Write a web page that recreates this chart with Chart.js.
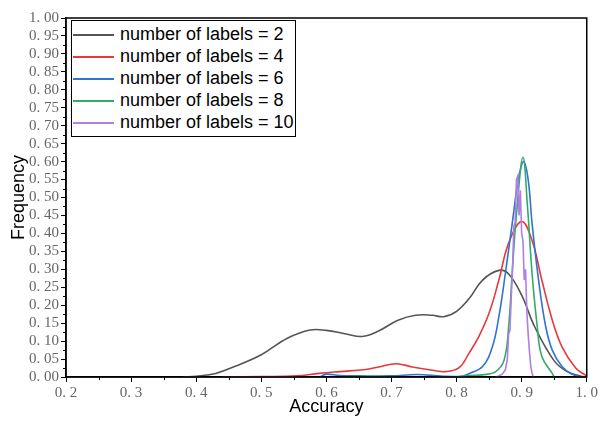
<!DOCTYPE html>
<html>
<head>
<meta charset="utf-8">
<script src="https://cdn.jsdelivr.net/npm/chart.js@4"></script>
<style>
  body { margin: 0; background: #fff; }
  #wrap { position: relative; width: 600px; height: 422px; }
  #legend {
    position: absolute; left: 71px; top: 20px; width: 225px; height: 117px;
    box-sizing: border-box; border: 1.5px solid #000; background: #fff;
    padding-top: 2px;
    font-family: "Liberation Sans", Arial, sans-serif; font-size: 18px; color: #000;
  }
  #legend .row { height: 22px; line-height: 22px; white-space: nowrap; }
  #legend .sw { display: inline-block; width: 41px; height: 0; vertical-align: middle; margin-left: 1px; margin-right: 6px; }
</style>
</head>
<body>
<div id="wrap">
  <canvas id="grafik" width="600" height="422"></canvas>
  <div id="legend"></div>
</div>
<script>
// number of labels = 2
const acc2  = [0.38, 0.40, 0.43, 0.46, 0.50, 0.54, 0.575, 0.60, 0.63, 0.655, 0.68, 0.71, 0.737, 0.763, 0.78, 0.80, 0.82, 0.84, 0.865, 0.88, 0.90, 0.92, 0.95, 0.97, 0.99, 1.00];
const freq2 = [0, 0.002, 0.01, 0.03, 0.062, 0.108, 0.131, 0.13, 0.12, 0.113, 0.128, 0.158, 0.172, 0.172, 0.168, 0.183, 0.22, 0.27, 0.297, 0.287, 0.228, 0.14, 0.045, 0.015, 0.003, 0];
// number of labels = 4
const acc4  = [0.44, 0.50, 0.554, 0.589, 0.62, 0.66, 0.68, 0.707, 0.732, 0.763, 0.783, 0.804, 0.819, 0.834, 0.85, 0.865, 0.88, 0.90, 0.916, 0.931, 0.947, 0.962, 0.983, 0.998, 1.00];
const freq4 = [0, 0.001, 0.003, 0.01, 0.015, 0.021, 0.028, 0.037, 0.028, 0.019, 0.015, 0.026, 0.066, 0.112, 0.178, 0.27, 0.373, 0.433, 0.38, 0.27, 0.159, 0.084, 0.025, 0.005, 0.002];
// number of labels = 6
const acc6  = [0.59, 0.60, 0.62, 0.65, 0.70, 0.74, 0.78, 0.81, 0.82, 0.84, 0.855, 0.865, 0.875, 0.8855, 0.895, 0.903, 0.91, 0.916, 0.926, 0.937, 0.947, 0.962, 0.977, 0.99];
const freq6 = [0, 0.008, 0.004, 0.003, 0.003, 0.007, 0.002, 0.003, 0.01, 0.029, 0.084, 0.168, 0.289, 0.428, 0.55, 0.60, 0.55, 0.428, 0.27, 0.14, 0.075, 0.029, 0.008, 0];
// number of labels = 8
const acc8  = [0.80, 0.82, 0.84, 0.86, 0.873, 0.88, 0.886, 0.893, 0.902, 0.909, 0.916, 0.924, 0.931, 0.947, 0.95];
const freq8 = [0, 0.004, 0.006, 0.015, 0.047, 0.14, 0.307, 0.474, 0.612, 0.474, 0.289, 0.14, 0.057, 0.01, 0];
// number of labels = 10
const acc10  = [0.86, 0.865, 0.87, 0.875, 0.878, 0.88, 0.882, 0.884, 0.886, 0.888, 0.89, 0.892, 0.894, 0.896, 0.898, 0.90, 0.902, 0.904, 0.906, 0.908, 0.91, 0.912, 0.914, 0.916, 0.918];
const freq10 = [0, 0.003, 0.008, 0.02, 0.05, 0.12, 0.13, 0.22, 0.30, 0.42, 0.43, 0.55, 0.56, 0.45, 0.52, 0.40, 0.38, 0.27, 0.30, 0.18, 0.12, 0.07, 0.03, 0.01, 0];

const seriesNames = ['number of labels = 2', 'number of labels = 4', 'number of labels = 6', 'number of labels = 8', 'number of labels = 10'];
const seriesColors = ['#555555', '#e8383a', '#2f74d0', '#35a86e', '#b07ee6'];

const xTicks = [0.2, 0.3, 0.4, 0.5, 0.6, 0.7, 0.8, 0.9, 1.0];

function pts(xs, ys) {
  return xs.map((x, i) => ({ x: x, y: ys[i] }));
}

// minor ticks + frame on top and right
const framePlugin = {
  id: 'frame',
  afterDraw(chart) {
    const ctx = chart.ctx;
    const a = chart.chartArea;
    const xs = chart.scales.x, ys = chart.scales.y;
    ctx.save();
    ctx.strokeStyle = '#000';
    ctx.lineWidth = 1;
    ctx.beginPath();
    for (let v = 0.25; v < 1; v += 0.1) {
      const px = Math.round(xs.getPixelForValue(v)) + 0.5;
      ctx.moveTo(px, a.bottom);
      ctx.lineTo(px, a.bottom + 3);
    }
    for (let v = 0.025; v < 1; v += 0.05) {
      const py = Math.round(ys.getPixelForValue(v)) + 0.5;
      ctx.moveTo(a.left, py);
      ctx.lineTo(a.left - 3, py);
    }
    ctx.stroke();
    ctx.lineWidth = 1.5;
    ctx.strokeRect(a.left, a.top, a.right - a.left, a.bottom - a.top);
    ctx.restore();
  }
};

const accs = [acc2, acc4, acc6, acc8, acc10];
const freqs = [freq2, freq4, freq6, freq8, freq10];

const chart = new Chart(
  document.getElementById('grafik'),
  {
    type: 'line',
    data: {
      datasets: seriesNames.map((name, i) => ({
        label: name,
        data: pts(accs[i], freqs[i]),
        borderColor: seriesColors[i],
        backgroundColor: seriesColors[i],
        borderWidth: 1.6,
        pointRadius: 0,
        fill: false,
        tension: i === 4 ? 0 : 0.4,
        order: 5 - i
      }))
    },
    options: {
      responsive: false,
      animation: false,
      devicePixelRatio: 1,
      layout: { padding: { top: 18, right: 12, left: 0, bottom: 0 } },
      plugins: {
        legend: { display: false },
        tooltip: { enabled: false }
      },
      scales: {
        x: {
          type: 'linear',
          min: 0.2,
          max: 1.0,
          afterBuildTicks: (scale) => { scale.ticks = xTicks.map(v => ({ value: v })); },
          afterFit: (scale) => { scale.height = 45; },
          ticks: {
            callback: (v) => Number(v).toFixed(1).replace('.', '. '),
            font: { family: 'Liberation Serif', size: 15 },
            color: '#666',
            maxRotation: 0,
            autoSkip: false,
            padding: 2
          },
          grid: { drawOnChartArea: false, tickLength: 5, tickColor: '#000' },
          border: { color: '#000', width: 1.5 },
          title: {
            display: true,
            text: 'Accuracy',
            font: { family: 'Liberation Sans', size: 18 },
            color: '#000',
            padding: { top: 0, bottom: 4 }
          }
        },
        y: {
          min: 0,
          max: 1,
          afterFit: (scale) => { scale.width = 66; },
          ticks: {
            stepSize: 0.05,
            callback: (v) => Number(v).toFixed(2).replace('.', '. '),
            font: { family: 'Liberation Serif', size: 15 },
            color: '#666',
            autoSkip: false,
            padding: 2
          },
          grid: { drawOnChartArea: false, tickLength: 5, tickColor: '#000' },
          border: { color: '#000', width: 1.5 },
          title: {
            display: true,
            text: 'Frequency',
            font: { family: 'Liberation Sans', size: 18 },
            color: '#000',
            padding: { top: 8, bottom: 0 }
          }
        }
      }
    },
    plugins: [framePlugin]
  }
);

// legend box in the top-left corner of the plot
const legend = document.getElementById('legend');
seriesNames.forEach((name, i) => {
  const row = document.createElement('div');
  row.className = 'row';
  const sw = document.createElement('span');
  sw.className = 'sw';
  sw.style.borderTop = '2px solid ' + seriesColors[i];
  row.appendChild(sw);
  row.appendChild(document.createTextNode(name));
  legend.appendChild(row);
});
</script>
</body>
</html>
